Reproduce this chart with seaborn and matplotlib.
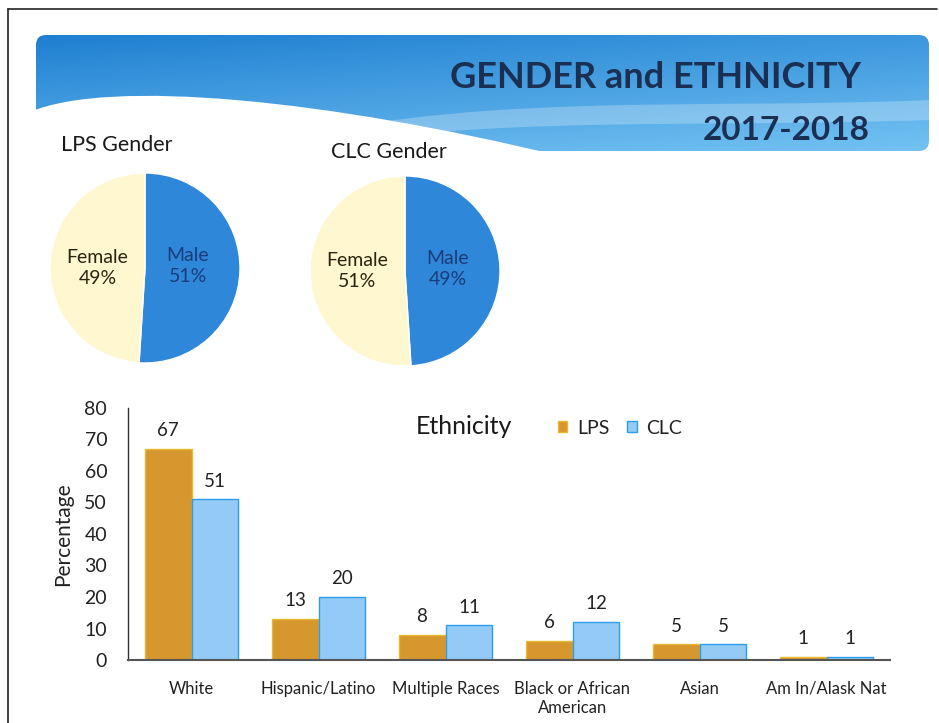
import numpy as np
import pandas as pd
import matplotlib
matplotlib.use("Agg")
import matplotlib.pyplot as plt
import seaborn as sns
from matplotlib.patches import FancyBboxPatch, PathPatch, Patch
from matplotlib.path import Path

# ---------------- data ----------------
title_main = "GENDER and ETHNICITY"
title_year = "2017-2018"

gender_labels = ["Male", "Female"]
lps_gender = [51, 49]
clc_gender = [49, 51]

ethnicity = ["White", "Hispanic/Latino", "Multiple Races",
             "Black or African\nAmerican", "Asian", "Am In/Alask Nat"]
lps_eth = [67, 13, 8, 6, 5, 1]
clc_eth = [51, 20, 11, 12, 5, 1]
schools = ["LPS", "CLC"]

# ---------------- style ----------------
sns.set_theme(style="white")
plt.rcParams['font.family'] = ['Lato', 'DejaVu Sans']

W, H = 939, 723
fig = plt.figure(figsize=(W / 100, H / 100), dpi=100)
fig.patch.set_facecolor("white")

# background / decoration axes in pixel coordinates
bg = fig.add_axes([0, 0, 1, 1])
bg.set_xlim(0, W)
bg.set_ylim(H, 0)
bg.axis("off")

# page border (scan)
bg.plot([8, 937], [9, 9], color="#222222", lw=1.2)
bg.plot([8, 8], [9, H], color="#222222", lw=1.2)

# banner with gradient
banner = FancyBboxPatch((36, 35), 893, 116, boxstyle="round,pad=0,rounding_size=10",
                        facecolor="none", edgecolor="none")
bg.add_patch(banner)
ny, nx = 60, 200
yy, xx = np.mgrid[0:1:ny * 1j, 0:1:nx * 1j]
c_top = np.array([0.12, 0.50, 0.82])
c_bot = np.array([0.45, 0.76, 0.95])
t = (0.65 * yy + 0.35 * xx)[..., None]
grad = c_top * (1 - t) + c_bot * t
im = bg.imshow(grad, extent=(36, 929, 151, 35), zorder=1, aspect="auto")
im.set_clip_path(banner)

# lighter streak waves
streak = Path([(250, 150), (450, 90), (700, 110), (930, 100),
               (930, 120), (700, 128), (480, 115), (300, 150)],
              [Path.MOVETO, Path.CURVE4, Path.CURVE4, Path.CURVE4,
               Path.LINETO, Path.CURVE4, Path.CURVE4, Path.CURVE4])
sp = PathPatch(streak, facecolor="white", edgecolor="none", alpha=0.25, zorder=2)
bg.add_patch(sp)
sp.set_clip_path(banner)

# white wave cutting the lower-left of the banner
wave = Path([(30, 112), (110, 78), (330, 100), (560, 156),
             (560, 165), (30, 165), (30, 112)],
            [Path.MOVETO, Path.CURVE4, Path.CURVE4, Path.CURVE4,
             Path.LINETO, Path.LINETO, Path.CLOSEPOLY])
bg.add_patch(PathPatch(wave, facecolor="white", edgecolor="none", zorder=3))

bg.text(656, 77, title_main, ha="center", va="center", fontsize=26,
        fontweight="bold", color="#1B2F52", zorder=5)
bg.text(786, 131, title_year, ha="center", va="center", fontsize=24,
        fontweight="bold", color="#1B2F52", zorder=5)

# ---------------- pies ----------------
female_c = "#FFF7CF"
male_c = "#2F87DA"


def draw_pie(rect, vals, title, title_xy):
    ax = fig.add_axes(rect)
    ax.pie(vals, colors=[male_c, female_c], startangle=90,
           counterclock=False, radius=1.0)
    ax.set_xlim(-1, 1)
    ax.set_ylim(-1, 1)
    ax.set_aspect("equal")
    ax.text(0.45, 0.02, f"{gender_labels[0]}\n{vals[0]}%", ha="center", va="center",
            fontsize=14, color="#1A3D7A", linespacing=1.25)
    ax.text(-0.5, 0.0, f"{gender_labels[1]}\n{vals[1]}%", ha="center", va="center",
            fontsize=14, color="#2A2410", linespacing=1.25)
    bg.text(title_xy[0], title_xy[1], title, ha="center", va="center",
            fontsize=15.5, color="#1A1A1A", zorder=5)


draw_pie([50 / W, 1 - 363 / H, 190 / W, 190 / H], lps_gender, "LPS Gender", (117, 145))
draw_pie([310 / W, 1 - 366 / H, 190 / W, 190 / H], clc_gender, "CLC Gender", (389, 152))

# ---------------- bar chart ----------------
df = pd.DataFrame({
    "Ethnicity": ethnicity * 2,
    "School": [schools[0]] * len(ethnicity) + [schools[1]] * len(ethnicity),
    "Percentage": lps_eth + clc_eth,
})
lps_c = "#D6972E"
clc_c = "#93CBF6"
ax = fig.add_axes([128 / W, 1 - 660 / H, 762 / W, 252 / H])
sns.barplot(data=df, x="Ethnicity", y="Percentage", hue="School",
            palette={schools[0]: lps_c, schools[1]: clc_c}, width=0.74,
            ax=ax, legend=False, saturation=1)
edge = {0: "#E8B830", 1: "#2C9CEB"}
for i, cont in enumerate(ax.containers):
    for p in cont:
        p.set_edgecolor(edge[i])
        p.set_linewidth(1.0)
    ax.bar_label(cont, fmt="%d", padding=7, fontsize=13.5, color="#222222")

ax.set_ylim(0, 80)
ax.set_yticks(range(0, 81, 10))
ax.set_xlim(-0.5, len(ethnicity) - 0.5)
ax.tick_params(axis="y", labelsize=14, length=0, pad=15, colors="#222222")
ax.tick_params(axis="x", labelsize=12, length=0, pad=15, colors="#222222")
ax.set_xlabel("")
ax.set_ylabel("Percentage", fontsize=15, color="#222222", labelpad=8)
for s in ["top", "right"]:
    ax.spines[s].set_visible(False)
ax.spines["left"].set_color("#333333")
ax.spines["bottom"].set_color("#555555")
ax.spines["left"].set_linewidth(1.0)
ax.spines["bottom"].set_linewidth(1.5)
ax.set_facecolor("none")
for lab in ax.get_xticklabels():
    lab.set_linespacing(1.25)

handles = [Patch(facecolor=lps_c, edgecolor=edge[0]), Patch(facecolor=clc_c, edgecolor=edge[1])]
bg.text(464, 426, "Ethnicity", ha="center", va="center", fontsize=18, color="#1A1A1A")
leg = fig.legend(handles, schools, loc="center left", bbox_to_anchor=(540 / W, 1 - 428 / H),
                 ncol=2, frameon=False, fontsize=14, handlelength=0.5, handleheight=0.5,
                 handletextpad=0.5, columnspacing=0.9)
for txt in leg.get_texts():
    txt.set_color("#222222")

fig.savefig("out.png", dpi=100, facecolor="white")
